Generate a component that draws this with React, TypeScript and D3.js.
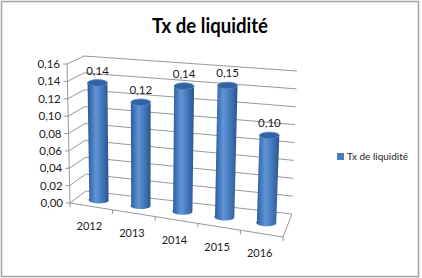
import React from 'react';
import * as d3 from 'd3';

const categories = ['2012', '2013', '2014', '2015', '2016'];
const values = [0.136, 0.119, 0.143, 0.149, 0.098];
const yTicks = [0, 0.02, 0.04, 0.06, 0.08, 0.1, 0.12, 0.14, 0.16];
const seriesName = 'Tx de liquidité';
const title = 'Tx de liquidité';

type Pt = [number, number];

// box corners on screen (front/back, left/right, bottom/top)
const FLB: Pt = [70, 203];
const FLT: Pt = [67, 64];
const BLB: Pt = [86, 191];
const BLT: Pt = [84, 56];
const FRB: Pt = [283, 237];
const FRT: Pt = [289, 94];
const BRB: Pt = [292, 214];
const BRT: Pt = [297, 71];

const lerp = (a: Pt, b: Pt, t: number): Pt => [a[0] + (b[0] - a[0]) * t, a[1] + (b[1] - a[1]) * t];
const bilerp = (f0: Pt, f1: Pt, b0: Pt, b1: Pt, u: number, w: number): Pt =>
  lerp(lerp(f0, f1, u), lerp(b0, b1, u), w);
const P = (u: number, v: number, w: number): Pt =>
  lerp(bilerp(FLB, FRB, BLB, BRB, u, w), bilerp(FLT, FRT, BLT, BRT, u, w), v);

const FONT = 'Lato, "Open Sans", sans-serif';
const fmt = (v: number) => d3.format('.2f')(v).replace('.', ',');

export default function App() {
  const x = d3.scaleBand<string>().domain(categories).range([0, 1]);
  const y = d3.scaleLinear().domain([0, 0.16]).range([0, 1]);
  const depth = 0.5;
  const r = 0.046;
  const ry = 3.3;
  const line = (a: Pt, b: Pt) => `M${a[0]},${a[1]}L${b[0]},${b[1]}`;
  const gridColor = '#8c8c8c';

  return (
    <svg width={422} height={278} style={{ position: 'absolute', left: 0, top: 0 }}>
      <defs>
        <linearGradient id="cyl" x1="0" x2="1" y1="0" y2="0">
          <stop offset="0" stopColor="#2b5690" />
          <stop offset="0.18" stopColor="#4075b8" />
          <stop offset="0.4" stopColor="#6096d6" />
          <stop offset="0.65" stopColor="#477cc0" />
          <stop offset="1" stopColor="#2a548d" />
        </linearGradient>
      </defs>
      <rect x={0} y={0} width={422} height={278} fill="#ffffff" />
      <rect x={1.5} y={1.5} width={417} height={275} fill="none" stroke="#a3a3a3" strokeWidth={1.5} />
      <text x={210} y={33} textAnchor="middle" fontFamily={FONT} fontWeight={700} fontSize={20}
        textLength={116} lengthAdjust="spacingAndGlyphs" fill="#000">{title}</text>

      {/* gridlines: left wall and back wall */}
      {yTicks.map((t) => (
        <g key={'g' + t}>
          <path d={line(P(0, y(t), 0), P(0, y(t), 1))} stroke={gridColor} strokeWidth={0.9} fill="none" />
          <path d={line(P(0, y(t), 1), P(1, y(t), 1))} stroke={gridColor} strokeWidth={0.9} fill="none" />
          <path d={line(P(0, y(t), 0), [P(0, y(t), 0)[0] - 4, P(0, y(t), 0)[1]])} stroke={gridColor} strokeWidth={0.9} />
          <text x={P(0, y(t), 0)[0] - 7} y={P(0, y(t), 0)[1]} dy="0.35em" textAnchor="end"
            fontFamily={FONT} fontSize={11.5} fill="#1a1a1a">{fmt(t)}</text>
        </g>
      ))}
      {/* value axis */}
      <path d={line(P(0, 0, 0), P(0, 1, 0))} stroke={gridColor} strokeWidth={0.9} />
      {/* floor edges */}
      <path d={line(P(0, 0, 0), P(1, 0, 0))} stroke={gridColor} strokeWidth={0.9} />
      <path d={line(P(1, 0, 0), P(1, 0, 1))} stroke={gridColor} strokeWidth={0.9} />
      {[0, 1, 2, 3, 4, 5].map((i) => {
        const u = i / 5;
        const a = P(u, 0, 0);
        return <path key={'tk' + i} d={line(a, [a[0], a[1] + 4])} stroke={gridColor} strokeWidth={0.9} />;
      })}
      {/* category labels */}
      {categories.map((c) => {
        const u = (x(c) as number) + x.bandwidth() / 2;
        const a = P(u, 0, 0);
        return (
          <text key={'c' + c} x={a[0] - 2} y={a[1] + 20} dy="0.35em" textAnchor="middle"
            fontFamily={FONT} fontSize={11} fill="#1a1a1a">{c}</text>
        );
      })}

      {/* cylinders */}
      {categories.map((c, i) => {
        const u = (x(c) as number) + x.bandwidth() / 2;
        const v = y(values[i]);
        const bl = P(u - r, 0, depth);
        const br = P(u + r, 0, depth);
        const tl = P(u - r, v, depth);
        const tr = P(u + r, v, depth);
        const rxB = (br[0] - bl[0]) / 2;
        const rxT = (tr[0] - tl[0]) / 2;
        const tc = P(u, v, depth);
        const body = `M${tl[0]},${tl[1]}L${bl[0]},${bl[1]}A${rxB},${ry} 0 0 0 ${br[0]},${br[1]}L${tr[0]},${tr[1]}Z`;
        return (
          <g key={'cy' + c}>
            <path d={body} fill="url(#cyl)" />
            <ellipse cx={tc[0]} cy={tc[1]} rx={rxT} ry={ry} fill="#3363a3" stroke="#5485c6" strokeWidth={0.8} />
            <text x={tc[0]} y={tc[1] - 12} dy="0.35em" textAnchor="middle" fontFamily={FONT}
              fontSize={11.5} fill="#1a1a1a">{fmt(values[i])}</text>
          </g>
        );
      })}

      {/* legend */}
      <rect x={337} y={153} width={7} height={7} fill="#4a7ebb" />
      <text x={347} y={156.5} dy="0.35em" fontFamily={FONT} fontSize={10} fill="#1a1a1a"
        textLength={61} lengthAdjust="spacingAndGlyphs">{seriesName}</text>
    </svg>
  );
}
